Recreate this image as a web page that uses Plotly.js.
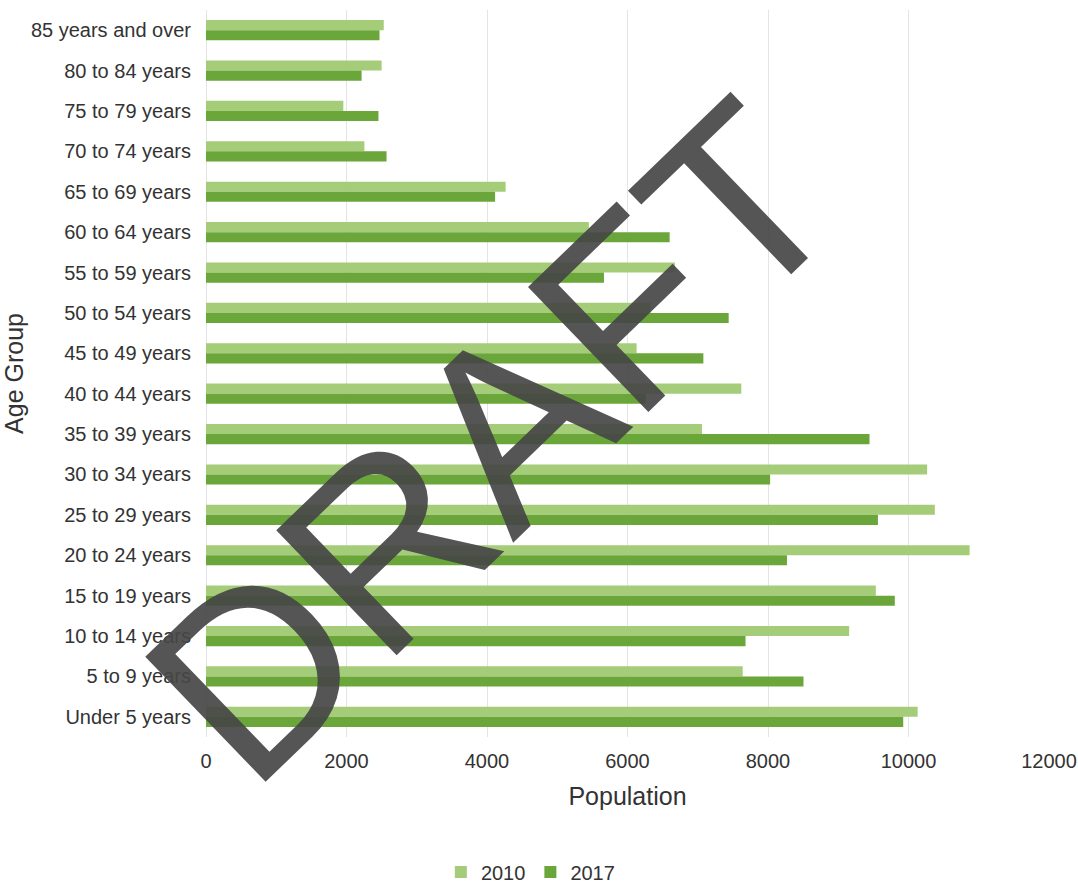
<!DOCTYPE html>
<html>
<head>
<meta charset="utf-8">
<script src="https://cdn.plot.ly/plotly-3.0.1.min.js"></script>
<style>
  html, body { margin: 0; padding: 0; background: #ffffff; }
  #chart { width: 1078px; height: 884px; }
</style>
</head>
<body>
<div id="chart"></div>
<script>
// Age groups, top to bottom as shown
const ageGroups = [
  "85 years and over", "80 to 84 years", "75 to 79 years", "70 to 74 years",
  "65 to 69 years", "60 to 64 years", "55 to 59 years", "50 to 54 years",
  "45 to 49 years", "40 to 44 years", "35 to 39 years", "30 to 34 years",
  "25 to 29 years", "20 to 24 years", "15 to 19 years", "10 to 14 years",
  "5 to 9 years", "Under 5 years"
];
const pop2010 = [2530, 2500, 1955, 2255, 4265, 5450, 6675, 6330, 6130, 7620,
                 7060, 10265, 10375, 10870, 9535, 9155, 7640, 10130];
const pop2017 = [2470, 2215, 2455, 2570, 4115, 6600, 5665, 7440, 7080, 6260,
                 9445, 8030, 9565, 8270, 9805, 7680, 8505, 9925];
const seriesNames = ["2010", "2017"];
const xTicks = [0, 2000, 4000, 6000, 8000, 10000, 12000];
const watermarkText = "DRAFT";

const FONT = "Liberation Sans, Arial, sans-serif";

const traces = [
  {
    type: "bar", orientation: "h", name: seriesNames[0],
    y: ageGroups, x: pop2010,
    marker: { color: "#a5cd79" }
  },
  {
    type: "bar", orientation: "h", name: seriesNames[1],
    y: ageGroups, x: pop2017,
    marker: { color: "#6aa63a" }
  }
];

const layout = {
  width: 1078, height: 884,
  margin: { l: 206, r: 29, t: 10, b: 147 },
  paper_bgcolor: "#ffffff", plot_bgcolor: "#ffffff",
  barmode: "group", bargap: 0.5, bargroupgap: 0,
  font: { family: FONT, color: "#333333", size: 20 },
  xaxis: {
    automargin: false,
    range: [0, 12000],
    tickvals: xTicks,
    ticktext: xTicks.map(String),
    showgrid: true, gridcolor: "#e4e4e4", gridwidth: 1,
    zeroline: true, zerolinecolor: "#e4e4e4",
    showline: false, ticks: "",
    ticklabelstandoff: 10,
    tickfont: { family: FONT, size: 20, color: "#333333" },
    title: { text: "Population", font: { family: FONT, size: 25, color: "#333333" }, standoff: 16 }
  },
  yaxis: {
    automargin: false,
    type: "category",
    autorange: "reversed",
    showgrid: false, zeroline: false, showline: false, ticks: "",
    ticklabelstandoff: 14,
    tickfont: { family: FONT, size: 20, color: "#333333" },
    title: { text: "Age Group", font: { family: FONT, size: 25, color: "#333333" }, standoff: 0 }
  },
  showlegend: true,
  legend: {
    orientation: "h",
    xref: "container", yref: "container",
    x: 0.492, xanchor: "center",
    y: 0.0136, yanchor: "middle",
    font: { family: FONT, size: 20, color: "#333333" },
    itemwidth: 30,
    bgcolor: "rgba(0,0,0,0)"
  },
  annotations: [
    {
      text: watermarkText,
      xref: "paper", yref: "paper",
      x: 0.339, y: 0.407,
      xanchor: "center", yanchor: "middle",
      showarrow: false,
      textangle: -44,
      font: { family: FONT, size: 252, color: "rgba(70,70,70,0.92)" }
    }
  ]
};

Plotly.newPlot("chart", traces, layout, { displayModeBar: false, staticPlot: true });
</script>
</body>
</html>
